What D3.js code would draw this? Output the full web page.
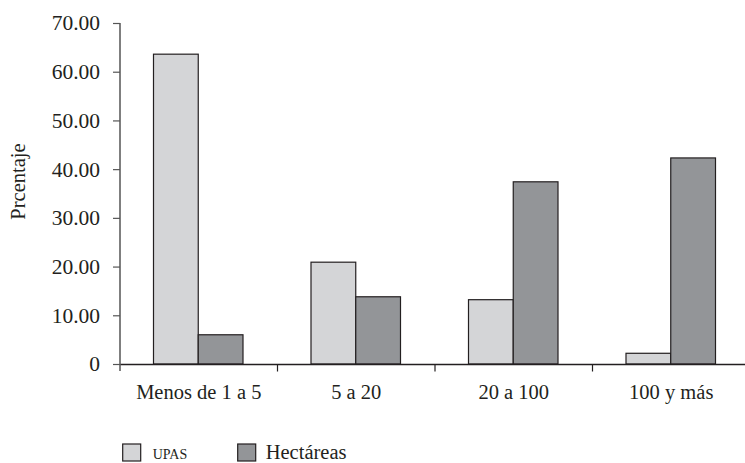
<!DOCTYPE html>
<html>
<head>
<meta charset="utf-8">
<script src="https://cdn.jsdelivr.net/npm/d3@7"></script>
<style>
  html, body { margin: 0; padding: 0; background: #fff; }
  svg { display: block; }
  svg text { font-family: "Liberation Serif", "Times New Roman", serif !important; }
</style>
</head>
<body>
<svg id="chart" width="745" height="463"></svg>
<script>
const categories = ["Menos de 1 a 5", "5 a 20", "20 a 100", "100 y más"];
const seriesNames = ["UPAS", "Hectáreas"];
const upas = [63.6, 20.9, 13.2, 2.2];
const hectareas = [6.0, 13.8, 37.4, 42.3];
const yTicks = [0, 10, 20, 30, 40, 50, 60, 70];
const yLabel = "Prcentaje";
const colors = ["#d4d5d7", "#939598"];

const svg = d3.select("#chart");
const mLeft = 120, mRight = 750, mTop = 23, mBottom = 364;
const FONT = "font-family:'Liberation Serif','Times New Roman',serif";

const x = d3.scaleBand().domain(categories).range([mLeft, mRight]).padding(0);
const x1 = d3.scaleBand().domain(seriesNames).range([33.5, 123]).padding(0);
const y = d3.scaleLinear().domain([0, 70]).range([mBottom, mTop]);

const data = categories.map((c, i) => ({cat: c, values: [upas[i], hectareas[i]]}));

// Bars
const groups = svg.append("g").selectAll("g").data(data).join("g")
  .attr("transform", d => `translate(${x(d.cat)},0)`);
groups.selectAll("rect")
  .data(d => d.values.map((v, j) => ({s: seriesNames[j], v, j})))
  .join("rect")
  .attr("x", d => x1(d.s))
  .attr("width", x1.bandwidth())
  .attr("y", d => y(d.v))
  .attr("height", d => y(0) - y(d.v))
  .attr("fill", d => colors[d.j])
  .attr("stroke", "#231f20")
  .attr("stroke-width", 1.2);

// Y axis
const yAxis = d3.axisLeft(y).tickValues(yTicks)
  .tickFormat(d => d === 0 ? "0" : d3.format(".2f")(d))
  .tickSize(7).tickPadding(13).tickSizeOuter(0);
const gy = svg.append("g").attr("transform", `translate(${mLeft},0)`).call(yAxis);
gy.attr("font-family", null);
gy.select(".domain").attr("stroke", "#555").attr("stroke-width", 1.5)
  .attr("d", `M0,${mTop}V${mBottom + 7}`);
gy.selectAll(".tick line").attr("stroke", "#555").attr("stroke-width", 1.2);
gy.selectAll(".tick text").attr("style", FONT + ";font-size:21.5px").attr("fill", "#231f20");

// X axis
const xAxis = d3.axisBottom(x).tickSize(0).tickSizeOuter(0).tickPadding(20);
const gx = svg.append("g").attr("transform", `translate(0,${mBottom})`).call(xAxis);
gx.attr("font-family", null);
gx.select(".domain").attr("stroke", "#231f20").attr("stroke-width", 1.5);
gx.selectAll(".tick text").attr("style", FONT + ";font-size:20.5px").attr("fill", "#231f20");
// boundary ticks
gx.selectAll(".bound").data(categories.slice(1)).join("line")
  .attr("class", "bound")
  .attr("x1", d => x(d)).attr("x2", d => x(d))
  .attr("y1", 0).attr("y2", 7.5)
  .attr("stroke", "#231f20").attr("stroke-width", 1.2);

// Y label
svg.append("text")
  .attr("transform", `translate(25,${(mTop + mBottom) / 2 - 12}) rotate(-90)`)
  .attr("text-anchor", "middle")
  .attr("style", FONT + ";font-size:20.5px")
  .attr("fill", "#231f20")
  .text(yLabel);

// Legend
const legendX = [122.7, 237.7];
const legendFont = [14, 20.5];
const leg = svg.append("g").selectAll("g").data(seriesNames).join("g")
  .attr("transform", (d, i) => `translate(${legendX[i]},444)`);
leg.append("rect")
  .attr("width", 18).attr("height", 17)
  .attr("fill", (d, i) => colors[i])
  .attr("stroke", "#231f20").attr("stroke-width", 1.2);
leg.append("text")
  .attr("x", (d, i) => i === 0 ? 30 : 28)
  .attr("y", 15)
  .attr("style", (d, i) => FONT + `;font-size:${legendFont[i]}px`)
  .attr("fill", "#231f20")
  .text(d => d);
</script>
</body>
</html>
